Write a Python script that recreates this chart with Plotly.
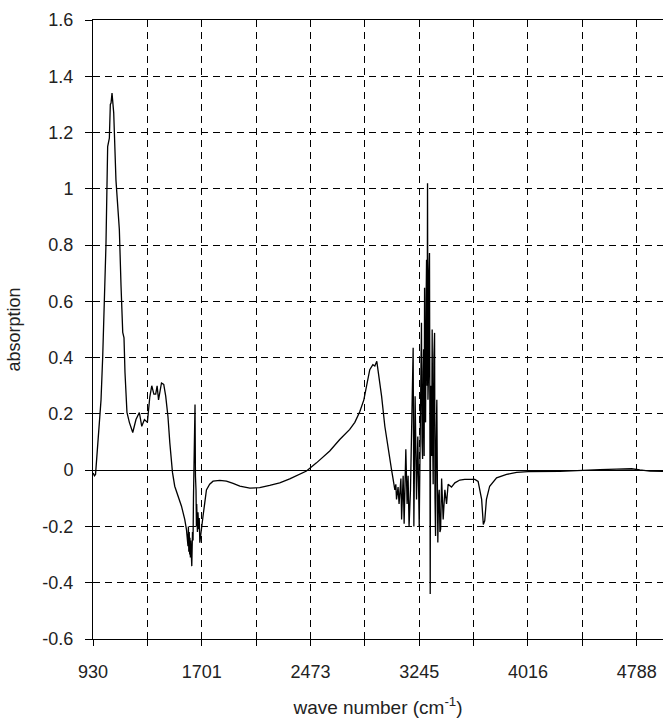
import plotly.graph_objects as go

# ---- data ----
wavenumber = [
    931, 940, 948, 955, 963, 975, 987, 999, 1011, 1022, 1034, 1040, 1046, 1053, 1058,
    1065, 1070, 1077, 1093, 1117, 1129, 1141, 1150, 1157, 1171, 1188, 1212, 1235, 1259,
    1276, 1295, 1316, 1333, 1347, 1362, 1375, 1385, 1395, 1416, 1432, 1446, 1462, 1475,
    1494, 1510, 1533, 1558, 1581, 1593, 1604, 1607, 1610, 1613, 1616, 1618, 1621, 1624,
    1627, 1631, 1636, 1640, 1643, 1647, 1650, 1654, 1657, 1661, 1664, 1666, 1671, 1675,
    1680, 1684, 1688, 1700, 1711, 1723, 1735, 1758, 1782,
    1830, 1877, 1924, 1972, 2043, 2113, 2184, 2255, 2326, 2397, 2445, 2516, 2610, 2681,
    2752, 2788, 2823, 2852, 2873, 2894, 2916, 2930, 2944, 2953, 2978, 3001, 3024, 3037,
    3049, 3060, 3072, 3079, 3084, 3095, 3102, 3115, 3120, 3131, 3138, 3150, 3159, 3166,
    3173, 3183, 3193, 3202, 3207, 3216, 3226, 3235, 3245, 3254, 3261, 3265, 3269, 3273,
    3276, 3280, 3283, 3287, 3290, 3294, 3297, 3301, 3304, 3307, 3311, 3314, 3318, 3321,
    3323, 3326, 3330, 3333, 3337, 3340, 3344, 3349, 3354, 3357, 3361, 3365, 3370, 3374,
    3377, 3382, 3387, 3392, 3397, 3404, 3415, 3427, 3439, 3450, 3474, 3498, 3533, 3568,
    3604, 3640, 3663, 3688, 3700, 3710, 3722, 3745, 3794, 3865, 3936, 4018, 4243, 4385,
    4527, 4646, 4752, 4811, 4882, 4975,
]
absorption = [
    -0.01, -0.02, -0.015, 0.03, 0.085, 0.17, 0.25, 0.405, 0.58, 0.80, 1.15, 1.17, 1.18, 1.30, 1.305,
    1.34, 1.30, 1.27, 1.03, 0.855, 0.654, 0.49, 0.47, 0.347, 0.205, 0.17, 0.134, 0.18, 0.205,
    0.156, 0.18, 0.17, 0.26, 0.30, 0.27, 0.27, 0.30, 0.25, 0.31, 0.305, 0.263, 0.19, 0.098,
    -0.008, -0.057, -0.092, -0.128, -0.175, -0.21, -0.27, -0.20, -0.29, -0.22, -0.30, -0.24, -0.31, -0.25,
    -0.33, -0.341, -0.22, -0.25, -0.10, 0.12, 0.05, 0.233, -0.02, -0.07, -0.20, -0.12, -0.22, -0.15,
    -0.21, -0.17, -0.258, -0.20, -0.163, -0.116, -0.07, -0.05, -0.039,
    -0.036, -0.039, -0.047, -0.057, -0.064, -0.062, -0.054, -0.045, -0.031, -0.015, -0.003, 0.026, 0.068, 0.109,
    0.145, 0.17, 0.208, 0.25, 0.30, 0.357, 0.375, 0.37, 0.387, 0.358, 0.263, 0.156, 0.074, 0.038,
    0.0, -0.033, -0.07, -0.05, -0.104, -0.06, -0.12, -0.03, -0.175, -0.02, -0.19, 0.074, -0.12, -0.02,
    -0.20, -0.07, 0.28, 0.435, -0.20, 0.263, -0.104, 0.12, -0.20, 0.405, 0.524, 0.10, 0.04, 0.35,
    0.43, 0.05, 0.648, 0.20, 0.17, 0.60, 0.748, 0.30, 1.02, 0.25, 0.34, 0.70, 0.772, 0.10,
    -0.44, 0.30, 0.26, 0.05, 0.50, 0.15, -0.05, 0.40, 0.488, -0.10, -0.234, 0.10, 0.25, -0.05,
    -0.257, -0.10, -0.07, -0.22, -0.21, -0.03, -0.175, -0.07, -0.12, -0.05, -0.06, -0.045, -0.035, -0.033,
    -0.033, -0.033, -0.04, -0.104, -0.193, -0.18, -0.104, -0.057, -0.027, -0.015, -0.008, -0.005, -0.004, 0.0,
    0.002, 0.004, 0.005, 0.001, -0.003, -0.004,
]

x_tick_vals = [930, 1701.6, 2473.2, 3244.8, 4016.4, 4788]
x_tick_labels = ["930", "1701", "2473", "3245", "4016", "4788"]
y_tick_vals = [-0.6, -0.4, -0.2, 0, 0.2, 0.4, 0.6, 0.8, 1.0, 1.2, 1.4, 1.6]
y_tick_labels = ["-0.6", "-0.4", "-0.2", "0", "0.2", "0.4", "0.6", "0.8", "1", "1.2", "1.4", "1.6"]

FONT = "Liberation Sans, Arial, sans-serif"
GRID = "7px,5px"

fig = go.Figure()
fig.add_trace(go.Scatter(
    x=wavenumber, y=absorption, mode="lines",
    line=dict(color="black", width=1.3), showlegend=False,
))

fig.update_layout(
    width=663, height=722,
    margin=dict(l=93, r=0, t=20, b=83),
    paper_bgcolor="white", plot_bgcolor="white",
    font=dict(family=FONT, size=18, color="#222"),
    xaxis=dict(
        range=[930, 4975], automargin=False,
        tickvals=x_tick_vals, ticktext=x_tick_labels,
        ticks="outside", ticklen=6, tickcolor="black",
        ticklabelstandoff=10,
        showgrid=True, gridcolor="black", gridwidth=1, griddash=GRID,
        minor=dict(dtick=385.8, tick0=930, showgrid=True, gridcolor="black",
                   griddash=GRID, ticks="outside", ticklen=6, tickcolor="black"),
        showline=True, linecolor="black", linewidth=1, mirror=True,
        zeroline=False,
        tickfont=dict(size=18),
        title=dict(text="wave number (cm<sup>-1</sup>)", font=dict(size=19), standoff=20),
    ),
    yaxis=dict(
        range=[-0.6, 1.6], automargin=False,
        tickvals=y_tick_vals, ticktext=y_tick_labels,
        ticks="outside", ticklen=7, tickcolor="black",
        ticklabelstandoff=8,
        showgrid=True, gridcolor="black", gridwidth=1, griddash=GRID,
        showline=True, linecolor="black", linewidth=1,
        zeroline=True, zerolinecolor="black", zerolinewidth=1,
        tickfont=dict(size=18),
        title=dict(text="absorption", font=dict(size=18), standoff=17),
    ),
)

fig.write_html(
    "out.html",
    config={"displayModeBar": False},
    post_script="document.body.style.margin='0';document.body.style.overflow='hidden';",
)
